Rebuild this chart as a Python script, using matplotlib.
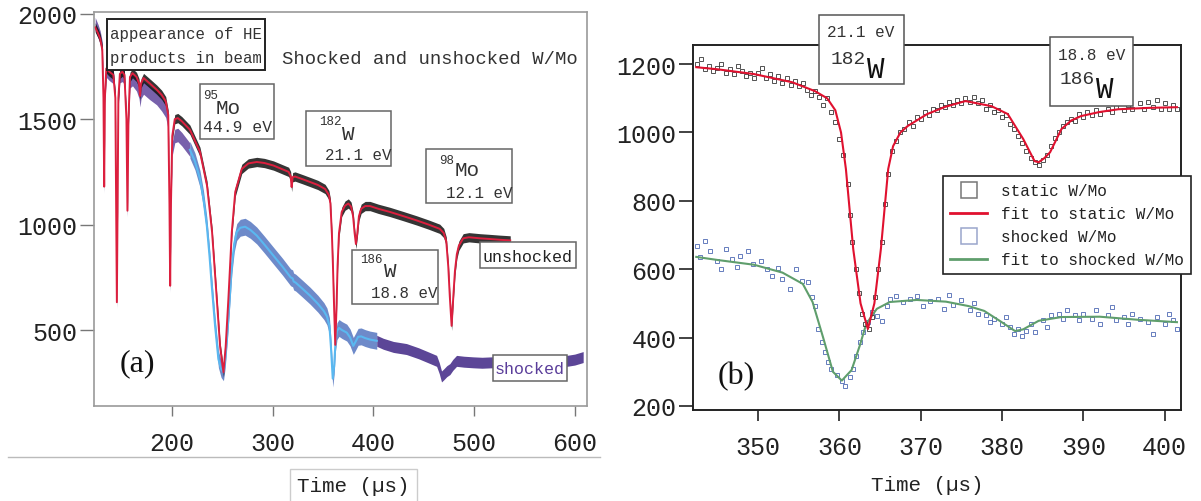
import numpy as np
import matplotlib
matplotlib.use("Agg")
import matplotlib.pyplot as plt
from matplotlib.patches import Rectangle
from matplotlib.lines import Line2D

W, H = 1201, 502
MONO = "Liberation Mono"
SERIF = "Liberation Serif"
plt.rcParams["font.family"] = [MONO, "DejaVu Sans"]

# ---- panel (a): full spectrum, time (us) vs counts ----
unshocked_t = [124, 127, 129, 131, 132.2, 132.9, 133.6, 135, 138, 142, 144, 145.5, 147, 148.5,
               151, 153, 155, 156, 157, 158.5, 161, 165, 167.5, 168.5, 169.5, 172, 178, 185,
               190, 194, 196.5, 197.7, 198.4, 199.2, 200.5, 203, 206, 210, 218, 228, 235, 240,
               244.7, 248, 251.3, 253.5, 256.2, 259.6, 263, 269.5, 276, 284.4, 292, 301, 310,
               316, 318, 319, 320, 322.4, 330, 337.3, 345, 352.2, 356, 357.5, 359, 360, 361.2,
               362.3, 363.5, 364.6, 366, 368.7, 372, 375.3, 378, 380, 381.5, 382.8, 384.2,
               385.8, 388, 392, 396.8, 405, 416.6, 430, 443, 455, 466, 470, 472.5, 474.5, 476,
               477.8, 479.5, 481.1, 483, 485, 489.3, 495, 505.9, 515, 526, 536]
unshocked_y = [1935, 1905, 1880, 1830, 1600, 1180, 1600, 1740, 1725, 1710, 1600, 632, 1600, 1715,
               1725, 1710, 1500, 1066, 1500, 1700, 1718, 1700, 1670, 1610, 1670, 1695, 1670, 1640,
               1615, 1585, 1520, 1100, 710, 1100, 1420, 1500, 1505, 1490, 1450, 1345, 1185, 965,
               647, 420, 300, 420, 647, 965, 1155, 1264, 1290, 1297, 1292, 1280, 1262,
               1250, 1230, 1178, 1225, 1228, 1215, 1202, 1188, 1169, 1140, 1100, 950, 805, 600,
               430, 600, 805, 960, 1060, 1090, 1100, 1085, 1040, 960, 908, 960,
               1040, 1075, 1088, 1088, 1075, 1060, 1040, 1020, 1000, 980, 960, 920, 800, 660,
               520, 660, 780, 860, 900, 935, 940, 935, 932, 928, 925]

shocked_pre_t = [124, 127, 129, 131, 132.2, 132.9, 133.6, 135, 138, 142, 144, 145.5, 147, 148.5,
                 151, 153, 155, 156, 157, 158.5, 161, 165, 167.5, 168.5, 169.5, 172, 178, 185,
                 190, 194, 196.5, 197.7, 198.4, 199.2, 200.5, 203, 206, 210, 214, 218]
shocked_pre_y = [1950, 1915, 1885, 1835, 1600, 1180, 1600, 1730, 1715, 1700, 1600, 632, 1600, 1705,
                 1710, 1695, 1500, 1066, 1500, 1680, 1690, 1665, 1630, 1590, 1630, 1650, 1625, 1600,
                 1570, 1540, 1480, 1100, 710, 1100, 1360, 1420, 1425, 1405, 1380, 1355]
shocked_mid_t = [218, 223, 228, 231.5, 234.8, 237.5, 239.7, 243, 246.3, 249, 251.3, 253, 255.2,
                 257.5, 259.6, 262, 264.5, 268, 272.8, 278, 284.4, 292, 300.9, 310, 318, 320, 321,
                 323, 330, 337.3, 345, 351, 354, 356.5, 358, 359.8, 361.2, 362.5, 364, 366, 369,
                 373.7, 377, 380.2, 382.5, 385, 388, 392, 396.8, 403.5]
shocked_mid_y = [1355, 1300, 1217, 1120, 995, 850, 710, 520, 362, 315, 300, 360, 490,
                 650, 805, 910, 965, 985, 990, 975, 948, 905, 853, 800, 750, 745, 730,
                 725, 695, 663, 625, 590, 565, 520, 420, 270, 330, 440, 495, 510, 500,
                 488, 465, 425, 445, 468, 470, 462, 455, 449]
shocked_post_t = [403.5, 410, 420, 433, 445, 455, 462.9, 465.5, 467.8, 470, 473, 476.1, 479, 482.7,
                  490, 499.3, 508, 517.4, 530, 545, 560, 575, 585, 593.5, 600, 608.4]
shocked_post_y = [449, 435, 420, 410, 390, 370, 354, 320, 280, 290, 305, 315, 335, 354,
                  350, 347, 345, 347, 345, 343, 342, 345, 350, 355, 360, 372]

# ---- panel (b): zoom on the W resonances ----
static_fit_t = [342.4, 345, 349.5, 354.2, 357, 358.5, 359.5, 360.2, 360.8, 361.7, 362.6, 363.5,
                364.3, 365.1, 366, 366.6, 367.5, 368.4, 370.8, 373, 375.5, 378.7, 380.7, 382.6,
                384, 384.5, 385.2, 385.9, 387.3, 388.5, 389.7, 392, 394.3, 398, 401.5]
static_fit_y = [1191, 1185, 1171, 1147, 1121, 1100, 1065, 1000, 893, 659, 500, 425,
                500, 659, 893, 960, 1000, 1019, 1054, 1075, 1092, 1077, 1054, 981,
                916, 913, 925, 942, 1010, 1035, 1048, 1060, 1068, 1072, 1074]
shocked_fit_t = [342.4, 345, 349.5, 353, 355.5, 356.7, 358, 359.2, 360.3, 361.5, 362.5, 363.3,
                 364.6, 366.2, 369.5, 373.1, 375.9, 377.8, 379.7, 381.6, 382.6, 384.5, 387.3,
                 392, 396.7, 401.5]
shocked_fit_y = [636, 627, 613, 590, 557, 504, 400, 300, 274, 305, 376, 440,
                 484, 504, 510, 505, 492, 478, 449, 419, 424, 449, 460,
                 461, 452, 445]

static_pts_t = [342.5, 343, 343.5, 344, 344.5, 345, 345.5, 346, 346.5, 347, 347.5, 348, 348.5,
                349, 349.5, 350, 350.5, 351, 351.5, 352, 352.5, 353, 353.5, 354, 354.5, 355,
                355.5, 356, 356.5, 357, 357.5, 358, 358.5, 359, 359.5, 360, 360.5, 361, 361.3,
                361.6, 362, 362.4, 362.8, 363.2, 363.6, 364, 364.4, 364.8, 365.2, 365.6, 366,
                366.5, 367, 367.5, 368, 368.5, 369, 369.5, 370, 370.5, 371, 371.5, 372, 372.5,
                373, 373.5, 374, 374.5, 375, 375.5, 376, 376.5, 377, 377.5, 378, 378.5, 379,
                379.5, 380, 380.5, 381, 381.5, 382, 382.5, 383, 383.5, 384, 384.5, 385, 385.5,
                386, 386.5, 387, 387.5, 388, 388.5, 389, 389.5, 390, 390.5, 391, 391.5, 392,
                393, 393.5, 394, 395, 395.5, 396, 397, 397.5, 398, 398.5, 399, 399.5, 400,
                400.5, 401, 401.5]
static_pts_y = [1200, 1215, 1185, 1195, 1180, 1190, 1200, 1175, 1185, 1170, 1195, 1180, 1165,
                1175, 1160, 1175, 1190, 1160, 1170, 1150, 1165, 1145, 1160, 1140, 1150, 1135,
                1145, 1125, 1110, 1120, 1105, 1080, 1100, 1060, 1030, 980, 935, 850, 760,
                680, 600, 530, 470, 440, 425, 460, 520, 600, 680, 790, 880,
                945, 975, 1000, 1010, 1030, 1020, 1045, 1040, 1060, 1050, 1070, 1065, 1080,
                1075, 1090, 1080, 1095, 1085, 1100, 1090, 1105, 1085, 1095, 1070, 1080, 1060,
                1065, 1045, 1050, 1025, 1010, 990, 970, 945, 925, 915, 905, 920, 935,
                960, 985, 1000, 1020, 1030, 1040, 1035, 1055, 1045, 1060, 1050, 1065, 1055,
                1070, 1060, 1075, 1065, 1080, 1070, 1085, 1070, 1090, 1075, 1095, 1070, 1085,
                1070, 1080, 1070]
shocked_pts_t = [342.5, 343.5, 342.9, 344.1, 344.9, 345.5, 346.1, 346.8, 347.8, 347.4, 348.8,
                 349.4, 350.4, 351.1, 351.7, 352.5, 352.9, 353.9, 354.7, 355.4, 356.2, 356.6,
                 357, 357.4, 357.8, 358.2, 358.6, 359, 359.7, 360.3, 360.7, 361.3, 361.7, 362.1,
                 362.5, 362.9, 363.5, 364, 364.6, 365.2, 365.8, 366.2, 367, 367.8, 368.7, 369.5,
                 370.3, 371.1, 372.1, 372.9, 373.5, 374, 375, 376, 376.5, 377, 378, 378.5, 379,
                 380, 380.5, 381, 381.5, 382, 382.5, 383, 383.5, 384, 385, 385.5, 386, 387,
                 387.5, 388, 389, 389.5, 390, 391, 391.5, 392, 393, 393.5, 394, 395, 395.5, 396,
                 397, 398, 398.5, 399, 400, 400.5, 401, 401.5]
shocked_pts_y = [669, 683, 635, 654, 625, 601, 659, 630, 640, 606, 654,
                 615, 625, 601, 581, 603, 571, 542, 601, 566, 562, 518,
                 493, 425, 386, 357, 328, 308, 289, 274, 259, 284, 308, 347,
                 386, 415, 445, 474, 464, 449, 493, 513, 523, 503, 513, 523,
                 493, 508, 513, 484, 525, 495, 510, 480, 500, 470, 465, 445, 455,
                 440, 460, 430, 410, 425, 405, 420, 440, 415, 450, 430, 465, 470,
                 455, 480, 465, 450, 470, 455, 480, 440, 465, 490, 450, 460, 440, 470,
                 455, 445, 410, 460, 440, 470, 450, 425]

xticks_a = [200, 300, 400, 500, 600]
yticks_a = [500, 1000, 1500, 2000]
xticks_b = [350, 360, 370, 380, 390, 400]
yticks_b = [200, 400, 600, 800, 1000, 1200]


def fx(px):
    return px / W


def fy(py):
    return 1 - py / H


def box(fig, x0, y0, x1, y1, ec="#666666", lw=1.1):
    fig.add_artist(Rectangle((fx(x0), fy(y1)), fx(x1) - fx(x0), fy(y0) - fy(y1),
                             transform=fig.transFigure, fc="white", ec=ec, lw=lw, zorder=5))


def label(fig, px, py, s, size, color="#333333", ha="left", family=MONO):
    fig.text(fx(px), fy(py), s, fontsize=size, color=color, ha=ha, va="center",
             family=family, zorder=6)


def band(ax, t, y, spread, color, alpha):
    t = np.asarray(t, float)
    y = np.asarray(y, float)
    ax.fill_between(t, y - spread, y + spread, color=color, alpha=alpha, lw=0)


def main():
    fig = plt.figure(figsize=(W / 100, H / 100), dpi=100)

    # ---------- (a) ----------
    ax = fig.add_axes([fx(94), fy(407), fx(587) - fx(94), fy(13) - fy(407)])
    band(ax, shocked_pre_t, shocked_pre_y, 32, "#4b2c8f", 0.75)
    band(ax, shocked_mid_t, shocked_mid_y, 40, "#3d63b8", 0.75)
    band(ax, shocked_post_t, shocked_post_y, 26, "#3f2585", 0.85)
    band(ax, unshocked_t, unshocked_y, 22, "#111111", 0.85)
    ax.plot(shocked_mid_t, shocked_mid_y, color="#5ab8f0", lw=1.5)
    ax.plot(unshocked_t, unshocked_y, color="#dc1f3e", lw=1.4)
    ax.set_xlim(122.8, 612.2)
    ax.set_ylim(140, 2008)
    ax.set_xticks(xticks_a)
    ax.set_yticks(yticks_a)
    for s in ax.spines.values():
        s.set_color("#9a9a9a")
        s.set_linewidth(1.2)
    ax.tick_params(axis="y", length=10, width=1, color="#777777", labelsize=18,
                   labelcolor="#222222", pad=2)
    ax.tick_params(axis="x", length=7, width=1, color="#777777", labelsize=18,
                   labelcolor="#222222", pad=11)

    # separator line and boxed axis label under (a)
    fig.add_artist(Line2D([fx(8), fx(600)], [fy(458), fy(458)], transform=fig.transFigure,
                          color="#bbbbbb", lw=1))
    box(fig, 290, 470, 417, 506, ec="#cccccc", lw=1)
    label(fig, 353, 487, "Time (µs)", 15, color="#222222", ha="center")

    fig.text(fx(137), fy(364), "(a)", fontsize=23, family=SERIF, ha="center", va="center",
             color="#111111")

    box(fig, 107, 20, 265, 71, ec="#222222", lw=1.4)
    label(fig, 110, 35, "appearance of HE", 11.3)
    label(fig, 110, 58, "products in beam", 11.3)
    label(fig, 282, 60, "Shocked and unshocked W/Mo", 13.6)

    box(fig, 200, 85, 274, 140)
    label(fig, 203, 96, "95", 9)
    label(fig, 216, 108, "Mo", 15)
    label(fig, 203, 128, "44.9 eV", 11.8)

    box(fig, 306, 112, 391, 167)
    label(fig, 319, 122, "182", 9)
    label(fig, 342, 134, "W", 15)
    label(fig, 325, 156, "21.1 eV", 11.3)

    box(fig, 426, 150, 512, 204)
    label(fig, 439, 161, "98", 9)
    label(fig, 455, 171, "Mo", 15)
    label(fig, 446, 193, "12.1 eV", 11.3)

    box(fig, 352, 251, 438, 305)
    label(fig, 360, 260, "186", 9)
    label(fig, 384, 272, "W", 15)
    label(fig, 371, 294, "18.8 eV", 11.3)

    box(fig, 480, 243, 576, 269)
    label(fig, 528, 257, "unshocked", 12, color="#222222", ha="center")
    box(fig, 493, 356, 567, 382)
    label(fig, 530, 369, "shocked", 12, color="#5a3d9a", ha="center")

    # ---------- (b) ----------
    bx = fig.add_axes([fx(693), fy(411), fx(1181) - fx(693), fy(46) - fy(411)])
    bx.plot(shocked_pts_t, shocked_pts_y, ls="none", marker="s", ms=3, mfc="none",
            mec="#4a66b2", mew=0.7, alpha=0.85)
    bx.plot(shocked_fit_t, shocked_fit_y, color="#5f9e6c", lw=1.5)
    bx.plot(static_pts_t, static_pts_y, ls="none", marker="s", ms=3, mfc="none",
            mec="#333333", mew=0.7, alpha=0.85)
    bx.plot(static_fit_t, static_fit_y, color="#e0112f", lw=1.5)
    bx.set_xlim(342, 402)
    bx.set_ylim(188, 1256)
    bx.set_xticks(xticks_b)
    bx.set_yticks(yticks_b)
    for s in bx.spines.values():
        s.set_color("#222222")
        s.set_linewidth(1.4)
    bx.tick_params(axis="y", length=10, width=1.2, color="#222222", labelsize=18,
                   labelcolor="#222222", pad=2)
    bx.tick_params(axis="x", length=8, width=1.2, color="#222222", labelsize=18,
                   labelcolor="#222222", pad=10)
    fig.text(fx(927), fy(486), "Time (µs)", fontsize=15, ha="center", va="center",
             color="#222222")
    fig.text(fx(736), fy(377), "(b)", fontsize=23, family=SERIF, ha="center", va="center",
             color="#111111")

    handles = [
        Line2D([], [], ls="none", marker="s", ms=11, mfc="none", mec="#777777", mew=1.1),
        Line2D([], [], color="#e0112f", lw=2),
        Line2D([], [], ls="none", marker="s", ms=11, mfc="none", mec="#9aa6cc", mew=1.1),
        Line2D([], [], color="#5f9e6c", lw=2),
    ]
    names = ["static W/Mo", "fit to static W/Mo", "shocked W/Mo", "fit to shocked W/Mo"]
    leg = bx.legend(handles, names, loc="upper left", bbox_to_anchor=(fx(943), fy(177)),
                    bbox_transform=fig.transFigure, borderaxespad=0, fontsize=11.5,
                    fancybox=False, framealpha=1, edgecolor="#222222", handlelength=2.3,
                    handletextpad=0.9, labelspacing=0.5, borderpad=0.45)
    leg.get_frame().set_linewidth(1.2)
    for t in leg.get_texts():
        t.set_color("#222222")
    leg.set_zorder(7)

    box(fig, 819, 16, 904, 85, ec="#555555")
    label(fig, 861, 33, "21.1 eV", 11.5, ha="center")
    label(fig, 831, 59, "182", 14)
    label(fig, 867, 70, "W", 21, color="#111111")

    box(fig, 1050, 38, 1133, 107, ec="#555555")
    label(fig, 1092, 55, "18.8 eV", 11.5, ha="center")
    label(fig, 1060, 79, "186", 14)
    label(fig, 1096, 90, "W", 21, color="#111111")

    fig.savefig("out.png", dpi=100)
    plt.close(fig)


if __name__ == "__main__":
    main()
